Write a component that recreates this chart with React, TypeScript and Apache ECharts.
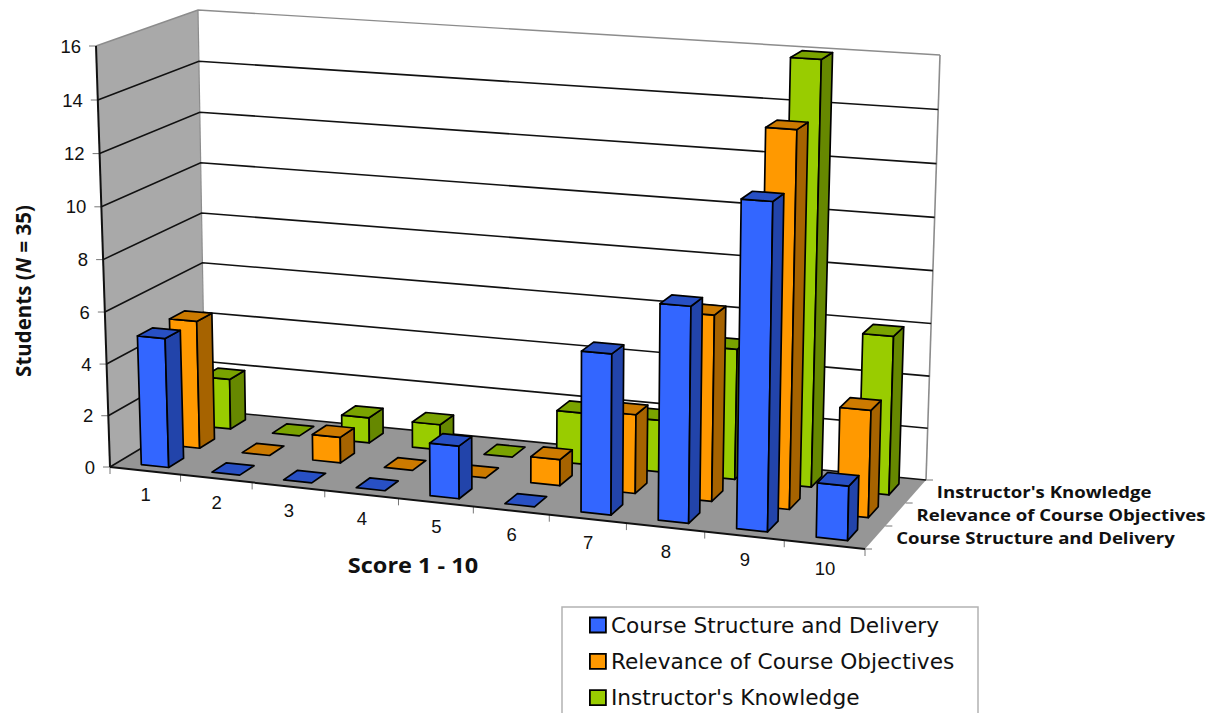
import React, { useEffect, useRef } from "react";
import * as echarts from "echarts";

const scores = ["1", "2", "3", "4", "5", "6", "7", "8", "9", "10"];
const yTicks = [0, 2, 4, 6, 8, 10, 12, 14, 16];
const courseStructure = [5, 0, 0, 0, 2, 0, 6, 8, 12, 2];
const courseRelevance = [5, 0, 1, 0, 0, 1, 3, 7, 14, 4];
const instructorKnowledge = [2, 0, 1, 1, 0, 2, 2, 5, 16, 6];
const rowNames = ["Course Structure and Delivery", "Relevance of Course Objectives", "Instructor's Knowledge"];

const SCORE_COUNT = scores.length;
const Y_MAX = 16;
const FONT = "'Open Sans', sans-serif";
const NUM_FONT = "'Liberation Sans', Arial, sans-serif";

// Corners of the 3D plot box on screen: floor (z0) and ceiling (z1), front and back.
const box = {
  fl0: [110, 467], fr0: [865, 549], bl0: [205, 410], br0: [926, 480],
  fl1: [96, 46], fr1: [875, 99], bl1: [198, 10], br1: [940, 55],
};

const lerp = (a: number, b: number, t: number) => a + (b - a) * t;
// Perspective foreshortening along an axis: k = 1 is linear.
const foreshorten = (t: number, k: number) => t / (k - (k - 1) * t);

// u: position along the score axis (0..10), v: depth (0 front .. 1 back), w: value (0..16)
function project(u: number, v: number, w: number): [number, number] {
  const s = foreshorten(u / SCORE_COUNT, 1.078);
  const h = foreshorten(w / Y_MAX, 1.03);
  const pick = (k: 0 | 1) => {
    const bottom = lerp(lerp(box.fl0[k], box.fr0[k], s), lerp(box.bl0[k], box.br0[k], s), v);
    const top = lerp(lerp(box.fl1[k], box.fr1[k], s), lerp(box.bl1[k], box.br1[k], s), v);
    return lerp(bottom, top, h);
  };
  return [pick(0), pick(1)];
}

const BAR_WIDTH = 0.39;
const BAR_DEPTH = 0.16;
const BAR_SHIFT = 0.025;

function barSeries(name: string, values: number[], row: number, front: string, side: string, top: string) {
  const vc = (row + 0.5) / 3;
  const v0 = vc - BAR_DEPTH / 2;
  const v1 = vc + BAR_DEPTH / 2;
  return {
    type: "custom",
    name,
    z: 4,
    clip: false,
    itemStyle: { color: front },
    encode: { x: 0, y: 1 },
    data: values.map((value, i) => [i, value]),
    renderItem(params: any, api: any) {
      const cs = params.coordSys;
      const pos = api.coord([api.value(0), api.value(1)]);
      const uc = ((pos[0] - cs.x) / cs.width) * SCORE_COUNT + BAR_SHIFT;
      const h = ((cs.y + cs.height - pos[1]) / cs.height) * Y_MAX;
      const u0 = uc - BAR_WIDTH / 2;
      const u1 = uc + BAR_WIDTH / 2;
      const face = (pts: [number, number, number][], fill: string) => ({
        type: "polygon",
        shape: { points: pts.map((p) => project(p[0], p[1], p[2])) },
        style: { fill, stroke: "#000", lineWidth: 1.7, lineJoin: "round" },
      });
      const children: any[] = [];
      if (h > 0) {
        children.push(face([[u0, v0, 0], [u1, v0, 0], [u1, v0, h], [u0, v0, h]], front));
        children.push(face([[u1, v0, 0], [u1, v1, 0], [u1, v1, h], [u1, v0, h]], side));
      }
      children.push(face([[u0, v0, h], [u1, v0, h], [u1, v1, h], [u0, v1, h]], top));
      return { type: "group", children };
    },
  };
}

function gridlineSeries() {
  return {
    type: "custom",
    name: "gridlines",
    z: 2,
    clip: false,
    encode: { x: 0, y: 1 },
    data: yTicks.map((t) => [0, t]),
    renderItem(params: any, api: any) {
      const cs = params.coordSys;
      const pos = api.coord([0, api.value(1)]);
      const w = ((cs.y + cs.height - pos[1]) / cs.height) * Y_MAX;
      return {
        type: "polyline",
        shape: { points: [project(0, 0, w), project(0, 1, w), project(SCORE_COUNT, 1, w)] },
        style: { fill: "none", stroke: w === Y_MAX ? "#8c8c8c" : "#111", lineWidth: w === Y_MAX ? 1.4 : 1.6 },
      };
    },
  };
}

function poly(a: [number, number, number], b: [number, number, number], c: [number, number, number], d: [number, number, number], fill: string) {
  return {
    type: "polygon",
    z: 0,
    shape: { points: [project(...a), project(...b), project(...c), project(...d)] },
    style: { fill },
  };
}

function seg(p: [number, number], q: [number, number], stroke: string, lineWidth: number, z = 1) {
  return { type: "line", z, shape: { x1: p[0], y1: p[1], x2: q[0], y2: q[1] }, style: { stroke, lineWidth } };
}

function frameGraphics() {
  const els: any[] = [];
  const n = SCORE_COUNT;
  els.push(poly([0, 0, 0], [0, 1, 0], [0, 1, Y_MAX], [0, 0, Y_MAX], "#a9a9a9"));
  els.push(poly([0, 1, 0], [n, 1, 0], [n, 1, Y_MAX], [0, 1, Y_MAX], "#ffffff"));
  els.push(poly([0, 0, 0], [n, 0, 0], [n, 1, 0], [0, 1, 0], "#969696"));

  // wall borders
  els.push(seg(project(0, 1, 0), project(0, 1, Y_MAX), "#8c8c8c", 1.2));
  els.push(seg(project(n, 1, 0), project(n, 1, Y_MAX), "#8c8c8c", 1.6));
  // axis lines
  els.push(seg(project(0, 0, 0), project(0, 0, Y_MAX), "#111", 2, 3));
  els.push(seg(project(0, 0, 0), project(n, 0, 0), "#111", 2, 3));

  // value axis ticks and labels
  yTicks.forEach((t) => {
    const [x, y] = project(0, 0, t);
    els.push(seg([x - 7, y], [x, y], "#777", 1));
    els.push({
      type: "text",
      z: 5,
      x: x - 15,
      y,
      style: { text: String(t), font: `18.5px ${NUM_FONT}`, fill: "#111", align: "right", verticalAlign: "middle" },
    });
  });

  // score axis ticks and labels
  for (let i = 0; i <= n; i++) {
    const [x, y] = project(i, 0, 0);
    els.push(seg([x, y], [x, y + 7], "#777", 1));
  }
  scores.forEach((s, i) => {
    const [x, y] = project(i + 0.5, 0, 0);
    els.push({
      type: "text",
      z: 5,
      x: x + 0.5,
      y: y + 24,
      style: { text: s, font: `18.5px ${NUM_FONT}`, fill: "#111", align: "center", verticalAlign: "middle" },
    });
  });

  // depth axis ticks and row names
  for (let r = 0; r <= 3; r++) {
    const [x, y] = project(n, r / 3, 0);
    els.push(seg([x, y], [x + 7, y], "#777", 1));
  }
  rowNames.forEach((name, r) => {
    const [x, y] = project(n, (r + 0.5) / 3, 0);
    els.push({
      type: "text",
      z: 5,
      x: x + 21,
      y: y - 0.5,
      scaleX: 1.126,
      style: { text: name, font: `bold 16.5px ${FONT}`, fill: "#111", align: "left", verticalAlign: "middle" },
    });
  });

  // axis titles
  els.push({
    type: "text",
    z: 5,
    x: 413,
    y: 565,
    scaleX: 1.12,
    style: { text: "Score 1 - 10", font: `bold 21px ${FONT}`, fill: "#111", align: "center", verticalAlign: "middle" },
  });
  els.push({
    type: "text",
    z: 5,
    x: 23,
    y: 291,
    rotation: Math.PI / 2,
    style: {
      text: "{a|Students (}{n|N}{a| = 35)}",
      align: "center",
      verticalAlign: "middle",
      rich: {
        a: { font: `bold 20.5px ${FONT}`, fill: "#111" },
        n: { font: `italic bold 20.5px ${FONT}`, fill: "#111" },
      },
    },
  });

  // legend frame, runs past the lower edge of the canvas
  els.push({
    type: "rect",
    z: 0,
    shape: { x: 562, y: 607, width: 416, height: 130 },
    style: { fill: "#fff", stroke: "#b3b3b3", lineWidth: 1.5 },
  });
  return els;
}

export default function App() {
  const ref = useRef<HTMLDivElement>(null);
  useEffect(() => {
    if (!ref.current) return;
    const chart = echarts.init(ref.current, undefined, { renderer: "svg" });
    const legendRow = (name: string, color: string) => ({
      name,
      icon: "rect",
      itemStyle: { color, borderColor: "#000", borderWidth: 1.8 },
    });
    chart.setOption({
      animation: false,
      backgroundColor: "#fff",
      grid: { left: 0, right: 0, top: 0, bottom: 0 },
      xAxis: { type: "category", data: scores, show: false },
      yAxis: { type: "value", min: 0, max: Y_MAX, interval: 2, show: false },
      legend: {
        orient: "vertical",
        left: 589,
        top: 614,
        padding: 0,
        itemWidth: 16,
        itemHeight: 15,
        itemGap: 14.3,
        selectedMode: false,
        textStyle: { fontFamily: "'DejaVu Sans', sans-serif", fontSize: 21.7, color: "#111" },
        data: [
          legendRow(rowNames[0], "#3366ff"),
          legendRow(rowNames[1], "#ff9900"),
          legendRow(rowNames[2], "#99cc00"),
        ],
      },
      graphic: { elements: frameGraphics() },
      series: [
        gridlineSeries(),
        barSeries(rowNames[2], instructorKnowledge, 2, "#99cc00", "#668800", "#7aa300"),
        barSeries(rowNames[1], courseRelevance, 1, "#ff9900", "#a66300", "#cc7a00"),
        barSeries(rowNames[0], courseStructure, 0, "#3366ff", "#2244aa", "#2850c4"),
      ],
    });
    return () => chart.dispose();
  }, []);
  return (
    <div
      ref={ref}
      style={{ position: "fixed", left: 0, top: 0, width: 1220, height: 713, overflow: "hidden" }}
    />
  );
}
